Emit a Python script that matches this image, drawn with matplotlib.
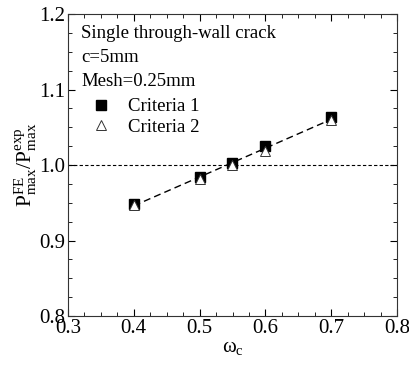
import matplotlib.pyplot as plt
import numpy as np

plt.rcParams['font.family'] = 'Liberation Serif'
plt.rcParams['mathtext.fontset'] = 'custom'
plt.rcParams['mathtext.rm'] = 'Liberation Serif'
plt.rcParams['mathtext.it'] = 'Liberation Serif:italic'

omega = [0.4, 0.5, 0.55, 0.6, 0.7]
crit1 = [0.949, 0.984, 1.003, 1.025, 1.064]
crit2 = [0.947, 0.981, 1.000, 1.019, 1.060]

fig = plt.figure(figsize=(4.1, 3.66), dpi=100)
ax = fig.add_axes([68/410, 1-316/366, (397-68)/410, (316-14)/366])

# linear fit through all points
allx = np.array(omega + omega)
ally = np.array(crit1 + crit2)
k, b = np.polyfit(allx, ally, 1)
xf = np.array([omega[0], omega[-1]])
ax.plot(xf, k*xf + b, ls=(0, (5, 3)), color='black', lw=1.0, zorder=1)
ax.axhline(1.0, ls=(0, (3, 2)), color='black', lw=0.8, zorder=1)

ax.plot(omega, crit1, 's', color='black', ms=7.5, ls='none', label='Criteria 1', zorder=3)
ax.plot(omega, crit2, '^', mfc='white', mec='#333333', ms=7.5, mew=0.7, ls='none', label='Criteria 2', zorder=4)

ax.set_xlim(0.3, 0.8)
ax.set_ylim(0.8, 1.2)
ax.set_xticks([0.3, 0.4, 0.5, 0.6, 0.7, 0.8])
ax.set_yticks([0.8, 0.9, 1.0, 1.1, 1.2])
ax.set_xticks(np.arange(0.3, 0.8001, 0.025), minor=True)
ax.set_yticks(np.arange(0.8, 1.2001, 0.025), minor=True)
ax.tick_params(which='both', direction='in', right=True, top=True, labelsize=15, pad=2)
ax.tick_params(which='major', length=5, width=0.8)
ax.tick_params(which='minor', length=3, width=0.6)
for s in ax.spines.values():
    s.set_color('#333333')

ax.set_xlabel(r'$\mathrm{\omega_c}$', fontsize=15, labelpad=0)
ax.set_ylabel(r'$\mathrm{P_{max}^{FE}/P_{max}^{exp}}$', fontsize=15.5, labelpad=0)

ax.text(0.04, 0.937, 'Single through-wall crack', transform=ax.transAxes, fontsize=13.5, va='center')
ax.text(0.04, 0.856, 'c=5mm', transform=ax.transAxes, fontsize=13.5, va='center')
ax.text(0.04, 0.776, 'Mesh=0.25mm', transform=ax.transAxes, fontsize=13.5, va='center')
ax.legend(loc='center left', bbox_to_anchor=(0.072, 0.659), frameon=False, fontsize=13.5,
          handletextpad=0.94, borderaxespad=0, borderpad=0, labelspacing=0.2, handlelength=1.0)

plt.savefig('out.png', dpi=100)
